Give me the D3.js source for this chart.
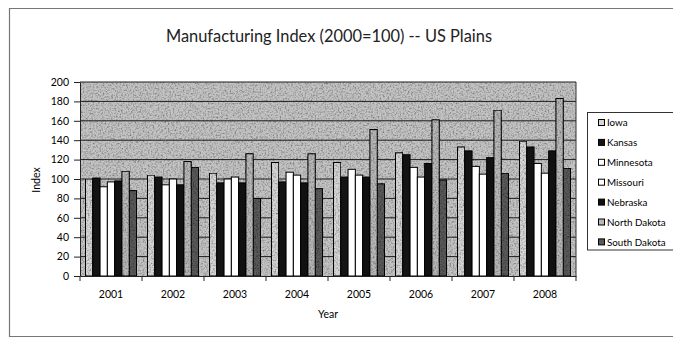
<!DOCTYPE html>
<html>
<head>
<meta charset="utf-8">
<script src="https://cdn.jsdelivr.net/npm/d3@7"></script>
<style>
  html, body { margin: 0; padding: 0; background: #fff; }
  svg { display: block; font-family: Lato, "Open Sans", sans-serif; }
</style>
</head>
<body>
<svg id="chart" width="673" height="339"></svg>
<script>
// Manufacturing index by state, 2000 = 100
const years = ["2001", "2002", "2003", "2004", "2005", "2006", "2007", "2008"];
const states = ["Iowa", "Kansas", "Minnesota", "Missouri", "Nebraska", "North Dakota", "South Dakota"];
const iowa        = [100, 104, 106, 117, 117, 127, 133, 139];
const kansas      = [101, 102,  96,  97, 102, 125, 129, 133];
const minnesota   = [ 92,  94, 100, 107, 110, 112, 113, 116];
const missouri    = [ 97, 100, 102, 104, 104, 102, 105, 106];
const nebraska    = [ 98,  94,  96,  96, 102, 116, 122, 129];
const northDakota = [108, 118, 126, 126, 151, 161, 171, 183];
const southDakota = [ 88, 112,  80,  90,  95,  99, 106, 111];
const yTicks = [0, 20, 40, 60, 80, 100, 120, 140, 160, 180, 200];

const seriesValues = [iowa, kansas, minnesota, missouri, nebraska, northDakota, southDakota];
const fills   = ["#d6d6d6", "#141414", "#ffffff", "#ffffff", "#111111", "#b8b8b8", "#5a5a5a"];
const speckled = [true, false, false, false, false, true, true];

const svg = d3.select("#chart");

// speckled print texture used by the patterned fills
const defs = svg.append("defs");
const f = defs.append("filter").attr("id", "speckle")
  .attr("x", 0).attr("y", 0).attr("width", "100%").attr("height", "100%");
f.append("feTurbulence").attr("type", "fractalNoise").attr("baseFrequency", 0.6)
  .attr("numOctaves", 2).attr("seed", 4).attr("result", "noise");
f.append("feColorMatrix").attr("in", "noise").attr("type", "matrix")
  .attr("values", "0 0 0 0 0  0 0 0 0 0  0 0 0 0 0  1.5 0 0 0 -0.62").attr("result", "dots");
f.append("feComposite").attr("in", "dots").attr("in2", "SourceGraphic")
  .attr("operator", "in").attr("result", "clipped");
const fm = f.append("feMerge");
fm.append("feMergeNode").attr("in", "SourceGraphic");
fm.append("feMergeNode").attr("in", "clipped");

// chart frame
svg.append("path")
  .attr("d", "M673,8.5 H9.5 V336.5 H673")
  .attr("fill", "none").attr("stroke", "#777").attr("stroke-width", 1.2);

const plot = { left: 80, right: 576, top: 82, bottom: 276 };

const x = d3.scaleBand().domain(years).range([plot.left, plot.right]).padding(0);
const xs = d3.scaleBand().domain(states).range([0, x.bandwidth()])
  .paddingInner(0).paddingOuter(0.75);
const y = d3.scaleLinear().domain([0, 200]).range([plot.bottom, plot.top]);

// plot background
svg.append("rect")
  .attr("x", plot.left).attr("y", plot.top)
  .attr("width", plot.right - plot.left).attr("height", plot.bottom - plot.top)
  .attr("fill", "#c4c4c4").attr("filter", "url(#speckle)");

// gridlines
svg.append("g")
  .selectAll("line").data(yTicks.filter(d => d > 0)).join("line")
  .attr("x1", plot.left).attr("x2", plot.right)
  .attr("y1", d => y(d)).attr("y2", d => y(d))
  .attr("stroke", "#1c1c1c").attr("stroke-width", 1);

// plot border right side
svg.append("line")
  .attr("x1", plot.right).attr("x2", plot.right)
  .attr("y1", plot.top).attr("y2", plot.bottom)
  .attr("stroke", "#333");

// bars
const rows = [];
years.forEach((yr, i) => {
  states.forEach((st, j) => rows.push({ year: yr, state: st, j, value: seriesValues[j][i] }));
});
svg.append("g").selectAll("rect").data(rows).join("rect")
  .attr("x", d => x(d.year) + xs(d.state))
  .attr("y", d => y(d.value))
  .attr("width", xs.bandwidth())
  .attr("height", d => y(0) - y(d.value))
  .attr("fill", d => fills[d.j])
  .attr("filter", d => speckled[d.j] ? "url(#speckle)" : null)
  .attr("stroke", "#000").attr("stroke-width", 1);

// y axis
const yAxis = svg.append("g")
  .attr("transform", `translate(${plot.left},0)`)
  .call(d3.axisLeft(y).tickValues(yTicks).tickSize(6).tickPadding(5).tickSizeOuter(0));
yAxis.selectAll("text").attr("font-size", 10.5).attr("fill", "#000")
  .attr("font-family", "Lato, sans-serif");
yAxis.selectAll("line, path").attr("stroke", "#222");

// x axis: labels centred in each year, ticks on the group boundaries
const xAxis = svg.append("g")
  .attr("transform", `translate(0,${plot.bottom})`)
  .call(d3.axisBottom(x).tickSize(0).tickPadding(15).tickSizeOuter(0));
xAxis.selectAll("text").attr("font-size", 10.5).attr("fill", "#000")
  .attr("font-family", "Lato, sans-serif");
xAxis.select(".domain").attr("stroke", "#222");
const bounds = years.map(d => x(d)).concat([x(years[years.length - 1]) + x.bandwidth()]);
svg.append("g").selectAll("line").data(bounds).join("line")
  .attr("x1", d => d).attr("x2", d => d)
  .attr("y1", plot.bottom).attr("y2", plot.bottom + 5)
  .attr("stroke", "#222");

// titles
svg.append("text")
  .attr("x", 329).attr("y", 42).attr("text-anchor", "middle")
  .attr("font-size", 16.4).attr("fill", "#222")
  .text("Manufacturing Index (2000=100) -- US Plains");
svg.append("text")
  .attr("x", 328).attr("y", 318).attr("text-anchor", "middle")
  .attr("font-size", 10.5).attr("fill", "#000").text("Year");
svg.append("text")
  .attr("transform", "translate(40,180) rotate(-90)").attr("text-anchor", "middle")
  .attr("font-size", 10.5).attr("fill", "#000").text("Index");

// legend
const legend = svg.append("g");
legend.append("rect")
  .attr("x", 587.5).attr("y", 112.5).attr("width", 100).attr("height", 137.5)
  .attr("fill", "#fff").attr("stroke", "#333");
const items = legend.selectAll("g.item").data(states).join("g")
  .attr("class", "item")
  .attr("transform", (d, i) => `translate(598,${122.5 + i * 19.9})`);
items.append("rect")
  .attr("x", 0.5).attr("y", -3).attr("width", 6).attr("height", 6)
  .attr("fill", (d, i) => fills[i]).attr("stroke", "#000").attr("stroke-width", 1);
items.append("text")
  .attr("x", 9).attr("y", 3.6).attr("font-size", 9.8).attr("fill", "#000")
  .text(d => d);
</script>
</body>
</html>
